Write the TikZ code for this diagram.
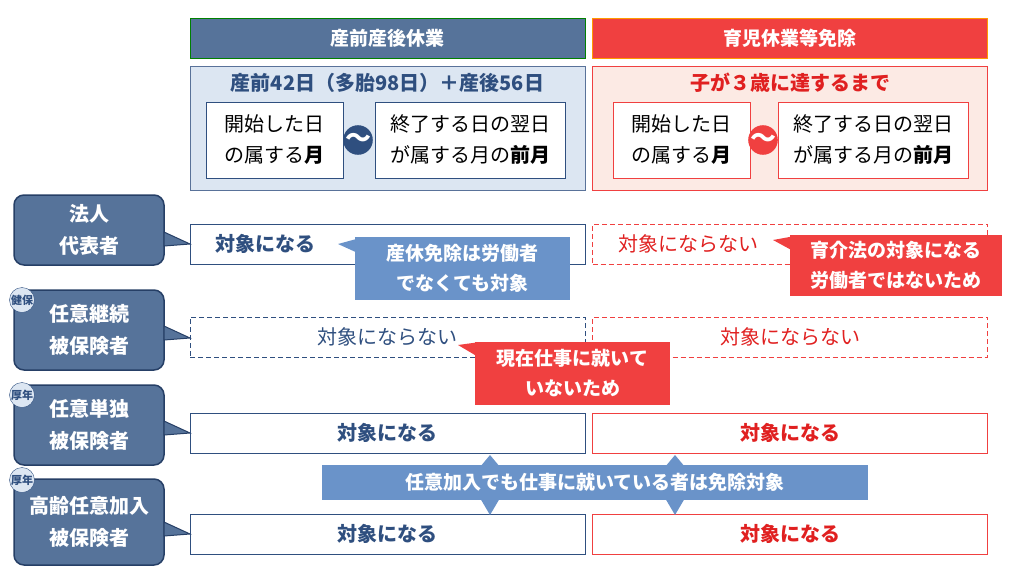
\documentclass[tikz,border=0pt]{standalone}
\usepackage{fontspec}
\setmainfont{Noto Sans CJK JP}
\definecolor{navy}{HTML}{2F4F7F}
\definecolor{slate}{HTML}{56739A}
\definecolor{lblue}{HTML}{DCE6F2}
\definecolor{cblue}{HTML}{6A93C9}
\definecolor{tred}{HTML}{F04040}
\definecolor{lred}{HTML}{FCEAE4}
\definecolor{dred}{HTML}{E02020}
\begin{document}
\begin{tikzpicture}[x=1pt,y=-1pt,
    head/.style={rectangle, draw, line width=1pt, text=white, font=\fontsize{19}{22}\selectfont\bfseries, minimum width=395pt, minimum height=40pt},
    panel/.style={rectangle, draw, line width=1pt, minimum width=395pt, minimum height=124pt},
    inner/.style={rectangle, draw, line width=1pt, fill=white, align=left, font=\fontsize{20}{31}\selectfont, minimum height=76pt, inner sep=3pt},
    tilde/.style={circle, fill, text=white, inner sep=0pt, minimum size=28pt, font=\fontsize{26}{26}\selectfont\bfseries},
    who/.style={rectangle, rounded corners=10pt, draw=navy!80!black, line width=1.5pt, fill=slate, text=white, align=center, font=\fontsize{20}{32}\selectfont\bfseries, minimum width=150pt, inner sep=2pt},
    badge/.style={circle, draw=navy, fill=lblue, text=navy, inner sep=0pt, minimum size=25pt, font=\fontsize{11}{11}\selectfont\bfseries},
    cell/.style={rectangle, line width=1pt, minimum width=395pt, minimum height=40pt, font=\fontsize{20}{22}\selectfont},
    note/.style={rectangle, text=white, align=center, font=\fontsize{19}{30}\selectfont\bfseries, inner sep=2pt},
    dashline/.style={dash pattern=on 5pt off 3pt}
  ]
    \useasboundingbox (0,0) rectangle (1024,576);
    % headers
    \node [head, fill=slate, draw=green!50!black] (h1) at (387.5,38) {産前産後休業};
    \node [head, fill=tred, draw=orange!80!yellow] (h2) at (790,38) {育児休業等免除};
    \node [panel, fill=lblue, draw=navy!80] (p1) at (387.5,128) {};
    \node [panel, fill=lred, draw=tred] (p2) at (790,128) {};
    \node [text=navy, font=\fontsize{20}{22}\selectfont\bfseries] (t1) at (387.5,83) {産前42日（多胎98日）＋産後56日};
    \node [text=dred, font=\fontsize{20}{22}\selectfont\bfseries] (t2) at (790,83) {子が３歳に達するまで};
    \node [inner, draw=navy, minimum width=137pt] (a1) at (274.5,140) {開始した日\\の属する\textbf{月}};
    \node [inner, draw=navy, minimum width=190pt] (b1) at (470,140) {終了する日の翌日\\が属する月の\textbf{前月}};
    \node [tilde, fill=navy] (c1) at (358,140) {～};
    \node [inner, draw=tred, minimum width=137pt] (a2) at (681.5,140) {開始した日\\の属する\textbf{月}};
    \node [inner, draw=tred, minimum width=190pt] (b2) at (873,140) {終了する日の翌日\\が属する月の\textbf{前月}};
    \node [tilde, fill=tred] (c2) at (763,140) {～};

    % rows
    \node [who, minimum height=70pt] (w1) at (89,230) {法人\\代表者};
    \node [who, minimum height=80pt] (w2) at (89,330) {任意継続\\被保険者};
    \node [who, minimum height=80pt] (w3) at (89,425) {任意単独\\被保険者};
    \node [who, minimum height=86pt] (w4) at (89,522) {高齢任意加入\\被保険者};
    \foreach \w/\y in {w1/244, w2/338, w3/433, w4/534}
      \fill [slate, draw=navy!80!black, line width=1pt] (164,\y-12) -- (190,\y) -- (164,\y+2) -- cycle;
    \node [badge] (k1) at (22,300) {健保};
    \node [badge] (k2) at (22,395) {厚年};
    \node [badge] (k3) at (22,480) {厚年};

    \node [cell, draw=navy] (r1a) at (387.5,244) {};
    \node [text=navy, font=\fontsize{20}{22}\selectfont\bfseries, anchor=west] at (212,244) {対象になる};
    \node [cell, draw=tred, dashline] (r1b) at (790,244) {};
    \node [text=dred, font=\fontsize{20}{22}\selectfont, anchor=west] at (615,244) {対象にならない};
    \node [cell, draw=navy, dashline, text=navy] (r2a) at (387.5,337) {対象にならない};
    \node [cell, draw=tred, dashline, text=dred] (r2b) at (790,337) {対象にならない};
    \node [cell, draw=navy, text=navy, font=\fontsize{20}{22}\selectfont\bfseries] (r3a) at (387.5,433) {対象になる};
    \node [cell, draw=tred, text=dred, font=\fontsize{20}{22}\selectfont\bfseries] (r3b) at (790,433) {対象になる};
    \node [cell, draw=navy, text=navy, font=\fontsize{20}{22}\selectfont\bfseries] (r4a) at (387.5,534) {対象になる};
    \node [cell, draw=tred, text=dred, font=\fontsize{20}{22}\selectfont\bfseries] (r4b) at (790,534) {対象になる};

    % notes
    \fill [cblue] (338,244) -- (360,238) -- (360,254) -- cycle;
    \node [note, fill=cblue, minimum width=215pt, minimum height=63pt] (n1) at (462.5,268.5) {産休免除は労働者\\でなくても対象};
    \fill [tred] (773,240) -- (795,236) -- (795,252) -- cycle;
    \node [note, fill=tred, minimum width=212pt, minimum height=61pt] (n2) at (896,265.5) {育介法の対象になる\\労働者ではないため};
    \fill [tred] (458,345) -- (480,342) -- (480,358) -- cycle;
    \node [note, fill=tred, minimum width=195pt, minimum height=63pt] (n3) at (572.5,373.5) {現在仕事に就いて\\いないため};
    \foreach \x in {490,675}
      \fill [cblue] (\x,455) -- (\x+10,467) -- (\x+10,498) -- (\x,515) -- (\x-10,498) -- (\x-10,467) -- cycle;
    \node [note, fill=cblue, minimum width=546pt, minimum height=35pt, font=\fontsize{19}{22}\selectfont\bfseries] (n4) at (595,482.5) {任意加入でも仕事に就いている者は免除対象};
  \end{tikzpicture}
\end{document}
